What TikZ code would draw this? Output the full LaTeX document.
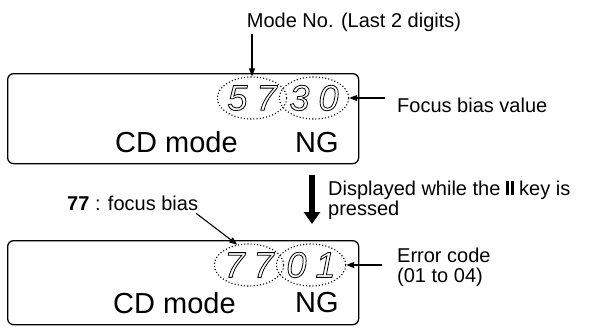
\documentclass[tikz,border=0pt]{standalone}
\usepackage{fontspec}
\setmainfont{Liberation Sans}
\usetikzlibrary{shapes.geometric,arrows.meta}

% hohle Segmentziffern (Umriss)
\newcommand\segziffern[2]{\special{pdf:code 1 Tr 0.8 w}#1\hspace{9pt}#2\special{pdf:code 0 Tr}}
% Pause-Taste
\newcommand\pausetaste{\rule{2.6pt}{14pt}\hspace{2.4pt}\rule{2.6pt}{14pt}}

\begin{document}
\begin{tikzpicture}[x=1pt,y=-1pt,
    anzeige/.style={draw,line width=1.3pt,rounded corners=6pt,inner sep=0pt,anchor=north west},
    marke/.style={draw,ellipse,dash pattern=on 1.1pt off 2.1pt,line width=1.1pt,
      minimum width=60pt,minimum height=42pt,inner sep=0pt,
      font=\fontsize{36}{36}\selectfont\itshape},
    beschr/.style={font=\fontsize{20}{20}\selectfont,inner sep=0pt,align=left},
    gross/.style={font=\fontsize{29}{29}\selectfont,inner sep=0pt},
    pfeil/.style={-{Triangle[length=8pt,width=6pt]},line width=1.1pt}]
  \useasboundingbox (0,0) rectangle (600,327);

  % Anzeige oben
  \node[anzeige,minimum width=351pt,minimum height=90pt] (lcdoben) at (7,73) {};
  \node[marke] (e57) at (252,98) {\segziffern{5}{7}};
  \node[marke] (e30) at (314,98) {\segziffern{3}{0}};
  \node[gross,anchor=base west] (cdoben) at (115,152) {CD mode};
  \node[gross,anchor=base west] (ngoben) at (295,152) {NG};

  % Beschriftungen oben
  \node[beschr,anchor=base] (modenr) at (354,27) {Mode No. (Last 2 digits)};
  \draw[pfeil] ([yshift=-3pt]e57.north |- modenr.south) -- (e57.north);
  \node[beschr,anchor=base west] (fokus) at (397,112) {Focus bias value};
  \draw[pfeil] ([xshift=-12pt]fokus.west |- e30.east) -- (e30.east);

  % dicker Pfeil
  \coordinate (dickoben) at (312,175);
  \coordinate (dickunten) at (312,224);
  \draw[line width=6.5pt,-{Triangle[length=12pt,width=16pt]}] (dickoben) -- (dickunten);
  \node[beschr,anchor=base west] (hinweis) at (328,215) {Displayed while the \pausetaste{} key is\\pressed};

  % Anzeige unten
  \node[anzeige,minimum width=351pt,minimum height=84pt] (lcdunten) at (7,240) {};
  \node[marke] (e77) at (249,265) {\segziffern{7}{7}};
  \node[marke] (e01) at (311,265) {\segziffern{0}{1}};
  \node[gross,anchor=base west] (cdunten) at (113,313) {CD mode};
  \node[gross,anchor=base west] (ngunten) at (295,312) {NG};

  % Beschriftungen unten
  \node[beschr,anchor=base west] (fb77) at (67,210) {\textbf{77} : focus bias};
  \draw[pfeil] ([xshift=-2pt,yshift=-3pt]fb77.south east) -- (e77.120);
  \node[beschr,anchor=base west] (fehler) at (397,282) {Error code\\(01 to 04)};
  \draw[pfeil] ([xshift=-15pt]fehler.west |- e01.east) -- (e01.east);
\end{tikzpicture}
\end{document}
